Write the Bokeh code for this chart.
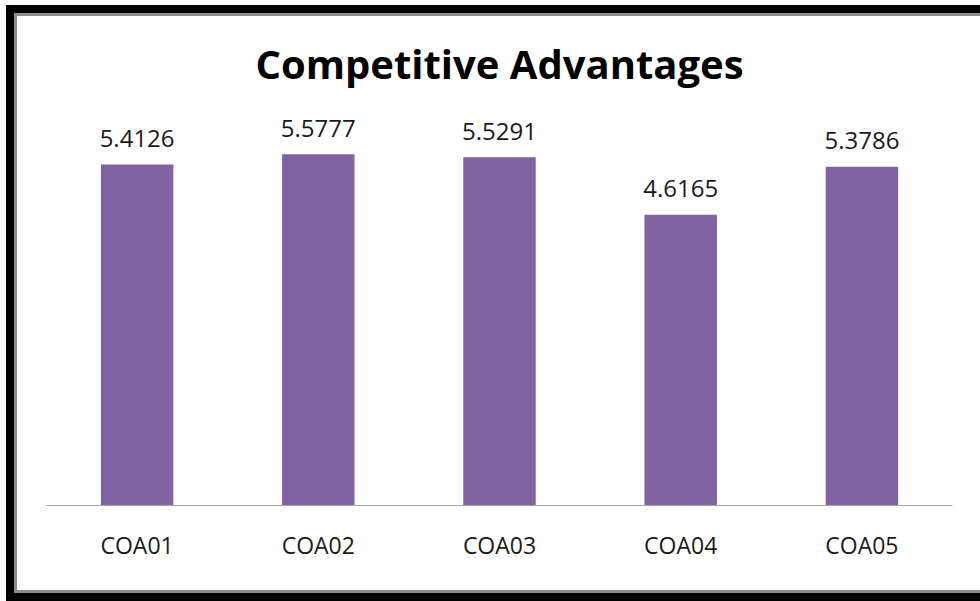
from bokeh.plotting import figure
from bokeh.models import ColumnDataSource, Range1d, FactorRange
from bokeh.core.properties import value
from bokeh.embed import file_html
from bokeh.resources import INLINE

categories = ["COA01", "COA02", "COA03", "COA04", "COA05"]
scores = [5.4126, 5.5777, 5.5291, 4.6165, 5.3786]
score_labels = ["5.4126", "5.5777", "5.5291", "4.6165", "5.3786"]

src = ColumnDataSource(dict(cat=categories, val=scores, lab=score_labels))

p = figure(width=980, height=601, x_range=FactorRange(*categories),
           y_range=Range1d(0, 6.43), output_backend="svg", toolbar_location=None,
           min_border_left=46, min_border_right=28, min_border_top=100, min_border_bottom=96,
           title="Competitive Advantages")
p.title.align = "center"
p.title.text_font = "Open Sans"
p.title.text_font_size = "40px"
p.title.text_font_style = "bold"
p.title.text_color = "#000000"
p.title.standoff = 19

p.vbar(x="cat", top="val", width=0.4, source=src, color="#8064A2", line_color=None)
p.text(x="cat", y="val", text="lab", source=src, text_align="center",
       text_baseline="alphabetic", y_offset=-26, text_font=value("Open Sans"),
       text_font_size="24px", text_color="#1a1a1a")

p.yaxis.visible = False
p.xgrid.grid_line_color = None
p.ygrid.grid_line_color = None
p.outline_line_color = None
p.background_fill_color = "#ffffff"
p.border_fill_color = None
p.xaxis.major_tick_line_color = None
p.xaxis.minor_tick_line_color = None
p.xaxis.axis_line_color = "#a6a6a6"
p.xaxis.major_label_text_font = "Open Sans"
p.xaxis.major_label_text_font_size = "23px"
p.xaxis.major_label_text_color = "#1a1a1a"
p.xaxis.major_label_standoff = 17
p.x_range.range_padding = 0
p.x_range.group_padding = 0

# chart-area frame (black outline with grey inner edge), painted behind the canvas
p.styles = {
    "background-color": "#ffffff",
    "box-shadow": ("inset 6px 0 0 0 #ffffff, inset 0 5px 0 0 #ffffff, "
                   "inset 14px 0 0 0 #000000, inset 0 13px 0 0 #000000, inset 0 -8px 0 0 #000000, "
                   "inset 17px 0 0 0 #8c8c8c, inset 0 16px 0 0 #8c8c8c, inset 0 -11px 0 0 #8c8c8c"),
}

open("out.html", "w").write(file_html(p, INLINE))
